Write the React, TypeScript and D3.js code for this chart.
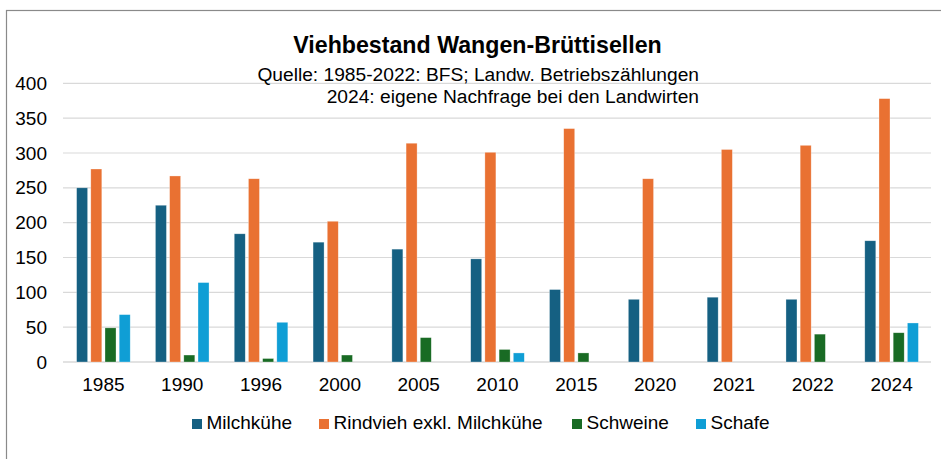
import React from "react";
import * as d3 from "d3";

const years = ["1985", "1990", "1996", "2000", "2005", "2010", "2015", "2020", "2021", "2022", "2024"];
const seriesNames = ["Milchkühe", "Rindvieh exkl. Milchkühe", "Schweine", "Schafe"];
const milchkuehe = [250, 225, 184, 172, 162, 148, 104, 90, 93, 90, 174];
const rindvieh = [277, 267, 263, 202, 314, 301, 335, 263, 305, 311, 378];
const schweine = [49, 10, 5, 10, 35, 18, 13, 0, 0, 40, 42];
const schafe = [68, 114, 57, 0, 0, 13, 0, 0, 0, 0, 56];
const yTicks = [0, 50, 100, 150, 200, 250, 300, 350, 400];
const colors = ["#156082", "#E97132", "#196B24", "#0F9ED5"];
const title = "Viehbestand Wangen-Brüttisellen";
const sub1 = "Quelle: 1985-2022: BFS; Landw. Betriebszählungen";
const sub2 = "2024: eigene Nachfrage bei den Landwirten";

const W = 941;
const H = 459;
const font = "'Liberation Sans', Arial, sans-serif";

export default function App() {
  const values = [milchkuehe, rindvieh, schweine, schafe];
  const x0 = d3.scaleBand<string>().domain(years).range([64, 931]).paddingInner(0.32).paddingOuter(0.16);
  const x1 = d3.scaleBand<string>().domain(seriesNames).range([0, x0.bandwidth()]).paddingInner(0.225);
  const y = d3.scaleLinear().domain([0, 400]).range([362, 83.3]);
  const legendX = [192, 319, 572, 696];

  return (
    <svg width={W} height={H} style={{ position: "absolute", left: 0, top: 0, background: "#fff" }} fontFamily={font}>
      <rect x={0} y={0} width={W} height={H} fill="#fff" />
      <rect x={6.5} y={10.5} width={W + 20} height={H + 20} fill="none" stroke="#8a8a8a" strokeWidth={1.2} />
      {yTicks.map((t) => (
        <g key={t}>
          <line x1={63} x2={931} y1={y(t)} y2={y(t)} stroke="#d9d9d9" strokeWidth={t === 0 ? 1.5 : 1.2} />
          <text x={47} y={y(t)} dy="0.35em" textAnchor="end" fontSize={19} fill="#000">
            {t}
          </text>
        </g>
      ))}
      {years.map((yr, i) => (
        <g key={yr} transform={`translate(${x0(yr)},0)`}>
          {seriesNames.map((s, j) => {
            const v = values[j][i];
            if (!v) return null;
            return (
              <rect
                key={s}
                x={x1(s)}
                y={y(v)}
                width={x1.bandwidth()}
                height={y(0) - y(v)}
                fill={colors[j]}
                stroke="#ffffff"
                strokeOpacity={0.5}
                strokeWidth={0.6}
              />
            );
          })}
          <text x={x0.bandwidth() / 2} y={391} textAnchor="middle" fontSize={19} fill="#000">
            {yr}
          </text>
        </g>
      ))}
      <text x={477.5} y={53} textAnchor="middle" fontSize={23.2} fontWeight="bold" fill="#000">
        {title}
      </text>
      <text x={699} y={81} textAnchor="end" fontSize={19.2} fill="#000">
        {sub1}
      </text>
      <text x={699} y={103} textAnchor="end" fontSize={19.2} fill="#000">
        {sub2}
      </text>
      {seriesNames.map((s, j) => (
        <g key={s}>
          <rect x={legendX[j]} y={419} width={10} height={10} fill={colors[j]} />
          <text x={legendX[j] + 14.5} y={429.3} fontSize={19} fill="#000">
            {s}
          </text>
        </g>
      ))}
    </svg>
  );
}
